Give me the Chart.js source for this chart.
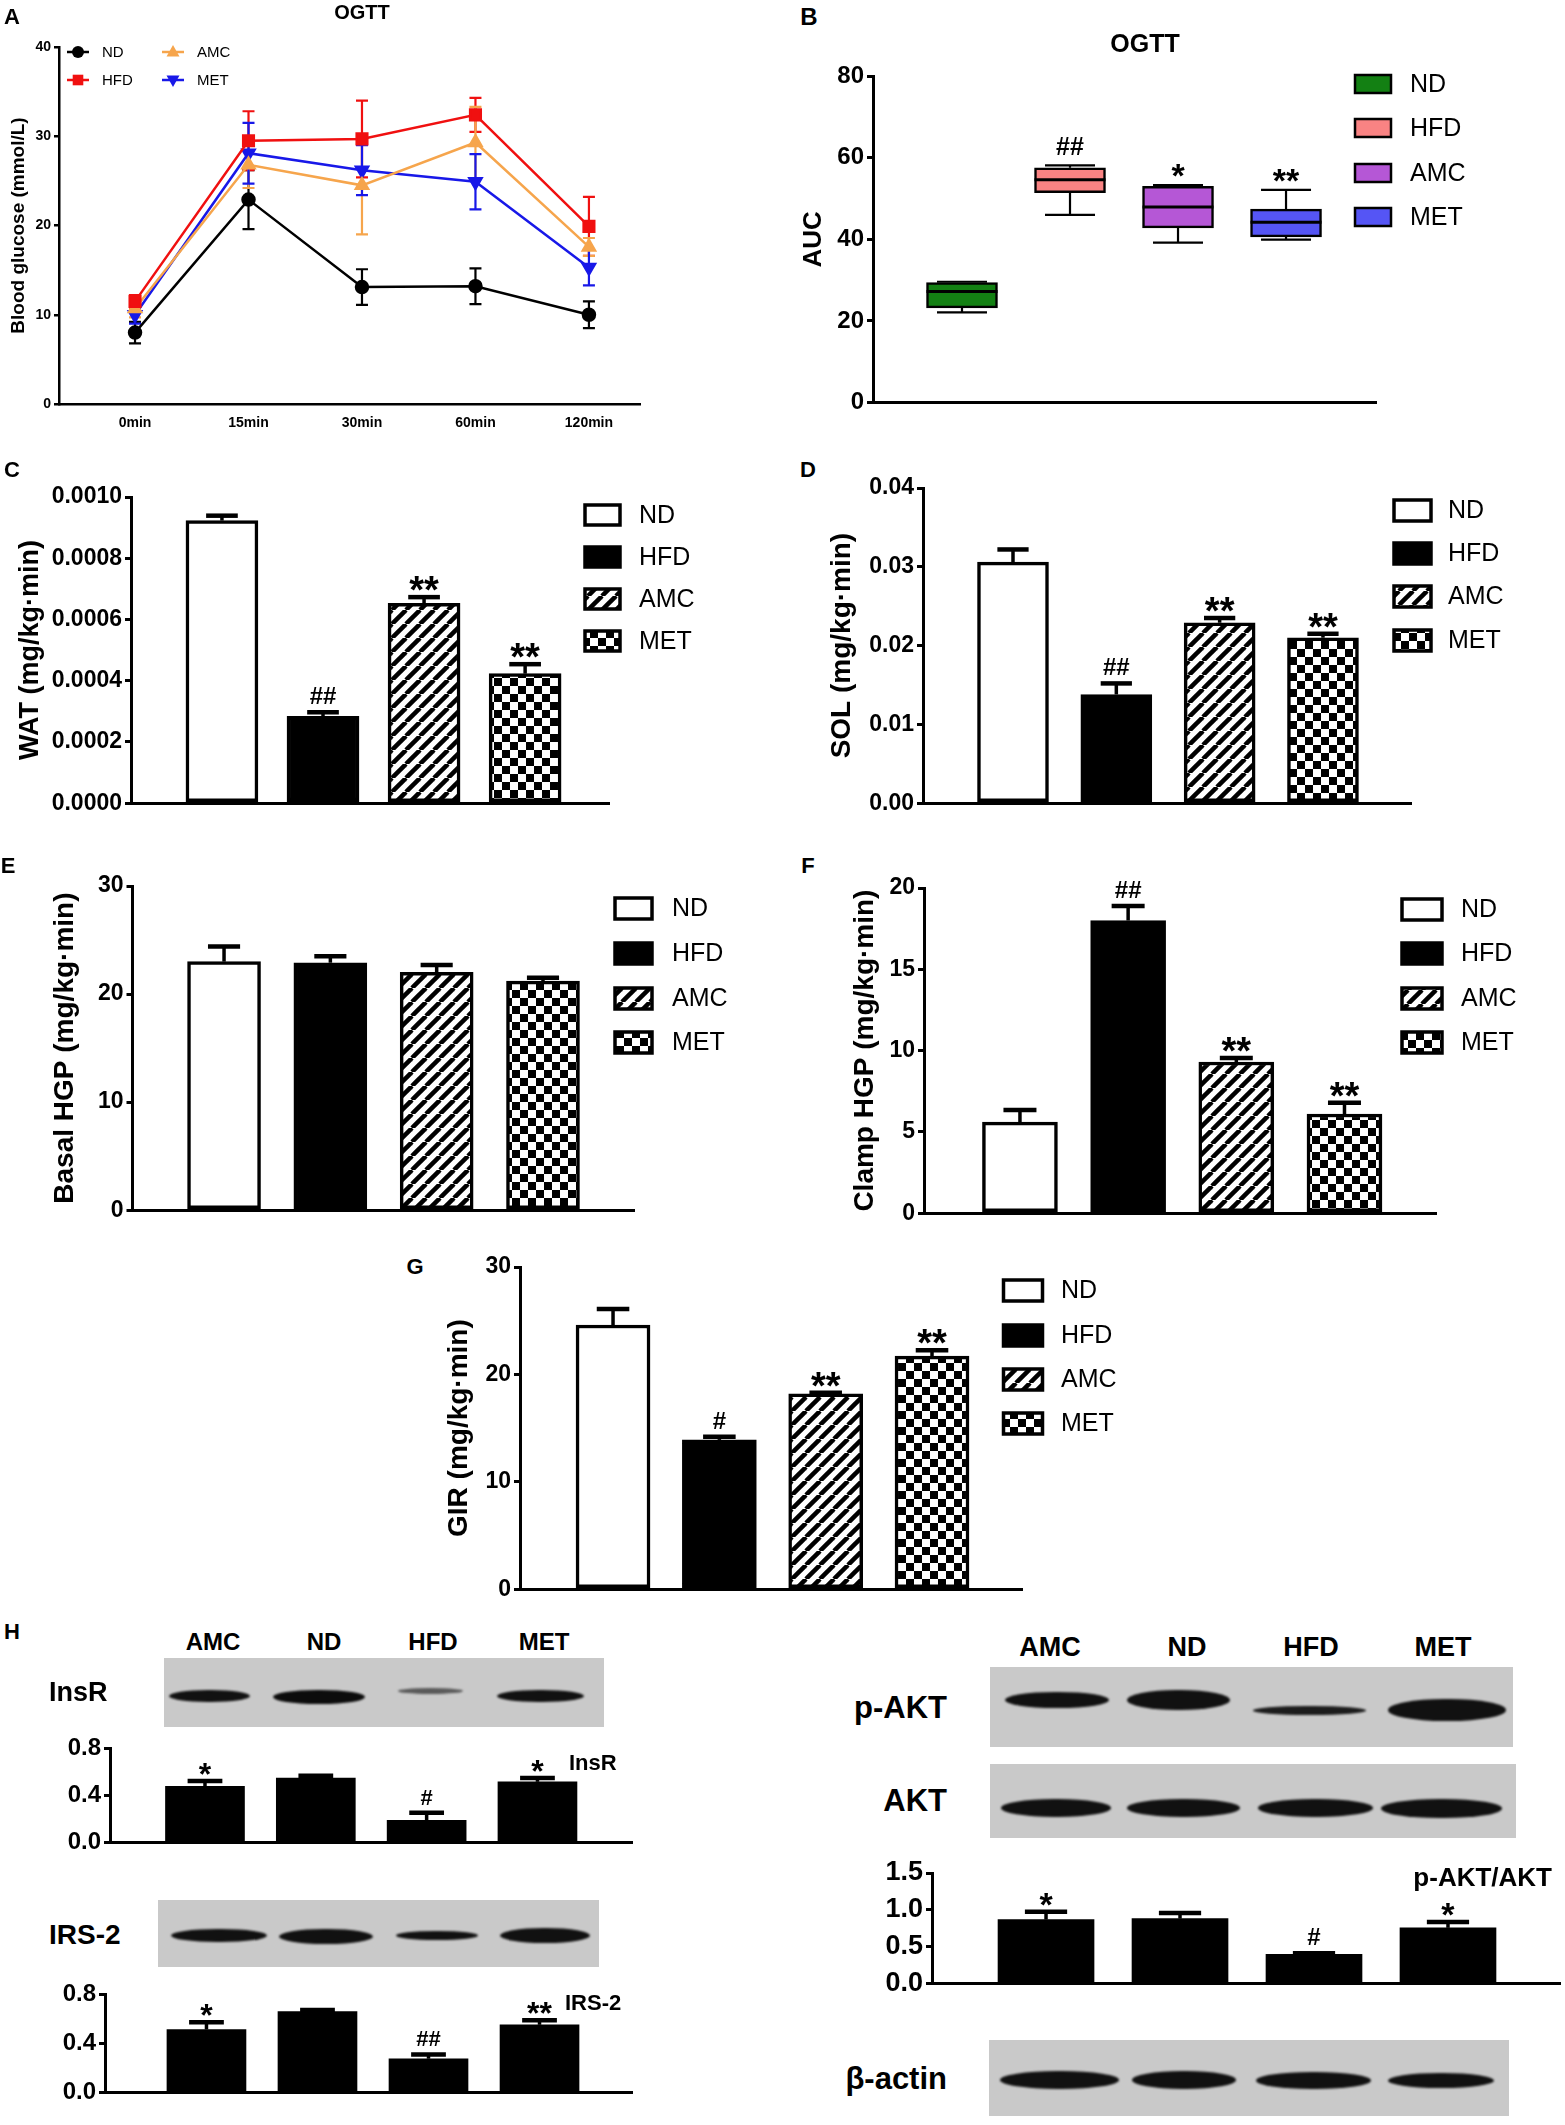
<!DOCTYPE html>
<html>
<head>
<meta charset="utf-8">
<script src="https://cdn.jsdelivr.net/npm/chart.js@4.4.1/dist/chart.umd.min.js"></script>
<style>
body { margin: 0; background: #fff; }
#page { position: relative; width: 1565px; height: 2125px; overflow: hidden; background: #fff;
        font-family: 'Liberation Sans', Arial, sans-serif; color: #000; }
#page canvas { position: absolute; }
.t { position: absolute; white-space: nowrap; line-height: 1; }
.blot { position: absolute; background: #c9c9c9; }
.band { position: absolute; border-radius: 48% / 50%; filter: blur(1.3px); }
</style>
</head>
<body>
<div id="page"></div>
<script>
// ---------- data ----------
const groups = ['ND', 'HFD', 'AMC', 'MET'];
const lanes = ['AMC', 'ND', 'HFD', 'MET'];

// A: OGTT curves
const timeLabels = ['0min', '15min', '30min', '60min', '120min'];
const ogttND  = [8.0, 22.9, 13.1, 13.2, 10.0];
const ogttHFD = [11.5, 29.5, 29.7, 32.4, 19.9];
const ogttAMC = [10.7, 26.8, 24.5, 29.3, 17.6];
const ogttMET = [10.0, 28.1, 26.2, 24.9, 15.3];
const errND  = [1.2, 3.3, 2.0, 2.0, 1.5];
const errHFD = [0.7, 3.3, 4.3, 1.9, 3.3];
const errAMC = [1.0, 2.6, 5.5, 4.0, 1.0];
const errMET = [1.0, 3.4, 2.8, 3.1, 2.0];
const ogttTicks = [0, 10, 20, 30, 40];

// B: AUC box plot
const aucMin = [22.1, 46.0, 39.2, 39.9];
const aucQ1  = [23.2, 51.4, 42.8, 40.6];
const aucMed = [27.2, 54.6, 47.9, 44.2];
const aucQ3  = [29.4, 57.5, 53.0, 47.4];
const aucMax = [29.6, 58.1, 53.3, 52.1];
const aucNotes = ['', '##', '*', '**'];
const aucTicks = [0, 20, 40, 60, 80];

// C-G: clamp bars
const wat = [0.000923, 0.000284, 0.000653, 0.000423];
const watErr = [0.000016, 0.000013, 0.00002, 0.000031];
const watNotes = ['', '##', '**', '**'];
const watTicks = [0, 0.0002, 0.0004, 0.0006, 0.0008, 0.001];

const sol = [0.0306, 0.0138, 0.0229, 0.0210];
const solErr = [0.0016, 0.0014, 0.0006, 0.0005];
const solNotes = ['', '##', '**', '**'];
const solTicks = [0, 0.01, 0.02, 0.03, 0.04];

const basal = [23.0, 22.9, 22.0, 21.2];
const basalErr = [1.4, 0.6, 0.7, 0.3];
const basalNotes = ['', '', '', ''];
const basalTicks = [0, 10, 20, 30];

const clamp = [5.6, 18.0, 9.3, 6.1];
const clampErr = [0.75, 0.9, 0.25, 0.7];
const clampNotes = ['', '##', '**', '**'];
const clampTicks = [0, 5, 10, 15, 20];

const gir = [24.6, 13.9, 18.2, 21.7];
const girErr = [1.5, 0.3, 0.1, 0.55];
const girNotes = ['', '#', '**', '**'];
const girTicks = [0, 10, 20, 30];

// H: western blot quantification (lane order AMC, ND, HFD, MET)
const insr = [0.475, 0.546, 0.189, 0.514];
const insrErr = [0.045, 0.02, 0.063, 0.032];
const insrNotes = ['*', '', '#', '*'];
const irs2 = [0.512, 0.657, 0.275, 0.55];
const irs2Err = [0.059, 0.013, 0.035, 0.037];
const irs2Notes = ['*', '', '##', '**'];
const blotTicks = [0, 0.4, 0.8];
const pakt = [0.87, 0.882, 0.40, 0.758];
const paktErr = [0.104, 0.078, 0.014, 0.079];
const paktNotes = ['*', '', '#', '*'];
const paktTicks = [0, 0.5, 1.0, 1.5];

// ---------- setup ----------
const FONT = "'Liberation Sans', Arial, sans-serif";
Chart.defaults.font.family = FONT;
Chart.defaults.color = '#000';
Chart.defaults.animation = false;
const page = document.getElementById('page');

function addCanvas(box) {
  const c = document.createElement('canvas');
  c.width = box.w; c.height = box.h;
  c.style.left = box.left + 'px'; c.style.top = box.top + 'px';
  c.style.width = box.w + 'px'; c.style.height = box.h + 'px';
  page.appendChild(c);
  return c;
}

function label(txt, x, y, size, align, weight) {
  const d = document.createElement('div');
  d.className = 't';
  d.textContent = txt;
  d.style.fontSize = size + 'px';
  d.style.fontWeight = weight || 'bold';
  d.style.left = x + 'px';
  d.style.top = y + 'px';
  const ax = align === 'l' ? '0' : align === 'r' ? '-100%' : '-50%';
  d.style.transform = 'translate(' + ax + ',-50%)';
  page.appendChild(d);
}

function blot(x0, y0, x1, y1, bands) {
  const b = document.createElement('div');
  b.className = 'blot';
  b.style.left = x0 + 'px'; b.style.top = y0 + 'px';
  b.style.width = (x1 - x0) + 'px'; b.style.height = (y1 - y0) + 'px';
  page.appendChild(b);
  bands.forEach(s => {
    const d = document.createElement('div');
    d.className = 'band';
    d.style.left = s[0] + 'px'; d.style.top = (s[2] - s[3] / 2) + 'px';
    d.style.width = (s[1] - s[0]) + 'px'; d.style.height = s[3] + 'px';
    d.style.background = s[4] || '#111';
    page.appendChild(d);
  });
}

// padding + axis sizes so the plot area lands on given page coordinates
function frame(box, area) {
  return {
    padding: { top: area.y0 - box.top, right: box.left + box.w - area.x1, bottom: 0, left: 0 },
    yWidth: area.x0 - box.left,
    xHeight: box.top + box.h - area.y1
  };
}

function stripes() {
  const p = 14, c = document.createElement('canvas');
  c.width = c.height = p;
  const g = c.getContext('2d');
  g.fillStyle = '#fff'; g.fillRect(0, 0, p, p);
  g.strokeStyle = '#000'; g.lineWidth = 4.5;
  for (const o of [-p, 0, p]) { g.beginPath(); g.moveTo(o, p); g.lineTo(o + p, 0); g.stroke(); }
  return g.createPattern(c, 'repeat');
}
function checker() {
  const c = document.createElement('canvas');
  c.width = c.height = 16;
  const g = c.getContext('2d');
  g.fillStyle = '#fff'; g.fillRect(0, 0, 16, 16);
  g.fillStyle = '#000'; g.fillRect(0, 0, 8, 8); g.fillRect(8, 8, 8, 8);
  return g.createPattern(c, 'repeat');
}
const clampFills = ['#fff', '#000', stripes(), checker()];

// significance mark whose glyph bottom sits a few px above y = tip
function drawNote(ctx, n, x, tip, star, hash) {
  const isStar = n[0] === '*';
  ctx.font = 'bold ' + (isStar ? star : hash) + 'px ' + FONT;
  ctx.textAlign = 'center';
  ctx.textBaseline = 'alphabetic';
  const m = ctx.measureText(n);
  const gap = isStar ? 4 : 6;
  ctx.fillText(n, x, tip - gap - m.actualBoundingBoxDescent);
}

function errorBars(errs, notes, star, hash) {
  return {
    id: 'errbars',
    afterDatasetsDraw(chart) {
      const ctx = chart.ctx, y = chart.scales.y, meta = chart.getDatasetMeta(0);
      const data = chart.data.datasets[0].data;
      ctx.save();
      ctx.strokeStyle = '#000'; ctx.fillStyle = '#000';
      meta.data.forEach((bar, i) => {
        const v = data[i].y;
        const top = y.getPixelForValue(v), tip = y.getPixelForValue(v + errs[i]);
        const half = bar.width * 0.22;
        ctx.lineWidth = 3.5;
        ctx.beginPath(); ctx.moveTo(bar.x, top); ctx.lineTo(bar.x, tip); ctx.stroke();
        ctx.lineWidth = 4.5;
        ctx.beginPath(); ctx.moveTo(bar.x - half, tip); ctx.lineTo(bar.x + half, tip); ctx.stroke();
        if (notes[i]) drawNote(ctx, notes[i], bar.x, tip - 2, star, hash);
      });
      ctx.restore();
    }
  };
}

function boxLegend(box, lg) {
  return {
    id: 'boxlegend',
    afterDraw(chart) {
      const ctx = chart.ctx;
      ctx.save();
      groups.forEach((g, i) => {
        const x = lg.x - box.left, y = lg.tops[i] - box.top;
        ctx.fillStyle = lg.fills[i];
        ctx.fillRect(x, y, lg.w, lg.h);
        ctx.strokeStyle = '#000'; ctx.lineWidth = lg.lw || 3.5;
        ctx.strokeRect(x, y, lg.w, lg.h);
        ctx.fillStyle = '#000';
        ctx.font = lg.size + 'px ' + FONT;
        ctx.textAlign = 'left'; ctx.textBaseline = 'middle';
        ctx.fillText(g, lg.textX - box.left, y + lg.h / 2 + 1);
      });
      ctx.restore();
    }
  };
}

function yAxis(f, ticks, fmt, size, title, titleSize, extra) {
  return Object.assign({
    min: ticks[0], max: ticks[ticks.length - 1],
    afterBuildTicks: s => { s.ticks = ticks.map(v => ({ value: v })); },
    ticks: { callback: v => fmt(v), font: { size: size, weight: 'bold' }, padding: 3, color: '#000' },
    grid: { drawOnChartArea: false, tickLength: 6, lineWidth: 3, color: '#000' },
    border: { color: '#000', width: 3 },
    title: title ? { display: true, text: title, color: '#000', font: { size: titleSize, weight: 'bold' }, padding: { top: 0, bottom: 0 } } : { display: false },
    afterFit: s => { s.width = f.yWidth; }
  }, extra || {});
}

function barPanel(cfg) {
  const f = frame(cfg.box, cfg.area);
  const plugins = [errorBars(cfg.errs, cfg.notes, cfg.star || 38, cfg.hash || 24)];
  if (cfg.legend) plugins.push(boxLegend(cfg.box, cfg.legend));
  return new Chart(addCanvas(cfg.box), {
    type: 'bar',
    data: {
      datasets: [{
        data: cfg.values.map((v, i) => ({ x: i, y: v })),
        backgroundColor: cfg.fills,
        borderColor: '#000',
        borderWidth: cfg.border,
        borderSkipped: false,
        barThickness: cfg.barW
      }]
    },
    options: {
      responsive: false, animation: false,
      layout: { padding: f.padding },
      plugins: { legend: { display: false }, tooltip: { enabled: false } },
      scales: {
        x: {
          type: 'linear', min: cfg.xmin, max: cfg.xmax, offset: false,
          ticks: { display: false }, grid: { display: false },
          border: { color: '#000', width: 3 },
          afterFit: s => { s.height = f.xHeight; }
        },
        y: yAxis(f, cfg.ticks, cfg.fmt, cfg.tickSize || 23, cfg.title, cfg.titleSize || 28)
      }
    },
    plugins: plugins
  });
}

// ---------- A: OGTT lines ----------
(function () {
  const box = { left: 0, top: 25, w: 660, h: 420 };
  const area = { x0: 59, x1: 640, y0: 47, y1: 404 };
  const f = frame(box, area);
  const series = [
    { g: 'ND', v: ogttND, e: errND, c: '#000000', s: 'circle', r: 6, rot: 0 },
    { g: 'HFD', v: ogttHFD, e: errHFD, c: '#f01010', s: 'rect', r: 7.5, rot: 0 },
    { g: 'AMC', v: ogttAMC, e: errAMC, c: '#f6a54c', s: 'triangle', r: 7, rot: 0 },
    { g: 'MET', v: ogttMET, e: errMET, c: '#1818e8', s: 'triangle', r: 7, rot: 180 }
  ];
  const legPos = { ND: [78, 52], AMC: [173, 52], HFD: [78, 80], MET: [173, 80] };

  function marker(ctx, s, x, y) {
    ctx.beginPath();
    if (s.s === 'circle') ctx.arc(x, y, 6, 0, Math.PI * 2);
    else if (s.s === 'rect') ctx.rect(x - 5.3, y - 5.3, 10.6, 10.6);
    else {
      const k = s.rot ? -1 : 1;
      ctx.moveTo(x, y - k * 7); ctx.lineTo(x + 6.5, y + k * 4.5); ctx.lineTo(x - 6.5, y + k * 4.5); ctx.closePath();
    }
    ctx.fill();
  }

  new Chart(addCanvas(box), {
    type: 'line',
    data: {
      datasets: series.map(s => ({
        label: s.g,
        data: s.v.map((v, i) => ({ x: i, y: v })),
        borderColor: s.c, backgroundColor: s.c,
        pointBackgroundColor: s.c, pointBorderColor: s.c,
        pointStyle: s.s, pointRadius: s.r, pointRotation: s.rot,
        borderWidth: 2.5, tension: 0
      }))
    },
    options: {
      responsive: false, animation: false,
      layout: { padding: f.padding },
      plugins: { legend: { display: false }, tooltip: { enabled: false } },
      scales: {
        x: {
          type: 'linear', min: -0.67, max: 4.45, offset: false,
          afterBuildTicks: s => { s.ticks = timeLabels.map((_, i) => ({ value: i })); },
          ticks: { callback: v => timeLabels[v], font: { size: 14, weight: 'bold' }, padding: 3, maxRotation: 0 },
          grid: { display: false, drawTicks: true, tickLength: 8 },
          border: { color: '#000', width: 2.5 },
          afterFit: s => { s.height = f.xHeight; }
        },
        y: yAxis(f, ogttTicks, v => v, 14, 'Blood glucose (mmol/L)', 19, {
          grid: { drawOnChartArea: false, tickLength: 5, lineWidth: 2.5, color: '#000' },
          border: { color: '#000', width: 2.5 },
          title: { display: true, text: 'Blood glucose (mmol/L)', color: '#000', font: { size: 19, weight: 'bold' }, padding: { top: 7, bottom: 0 } }
        })
      }
    },
    plugins: [{
      id: 'ogttExtras',
      beforeDatasetsDraw(chart) {
        const ctx = chart.ctx, y = chart.scales.y;
        ctx.save();
        series.forEach((s, di) => {
          const meta = chart.getDatasetMeta(di);
          ctx.strokeStyle = s.c; ctx.lineWidth = 2.2;
          meta.data.forEach((pt, i) => {
            const hi = y.getPixelForValue(s.v[i] + s.e[i]), lo = y.getPixelForValue(s.v[i] - s.e[i]);
            ctx.beginPath();
            ctx.moveTo(pt.x, hi); ctx.lineTo(pt.x, lo);
            ctx.moveTo(pt.x - 6, hi); ctx.lineTo(pt.x + 6, hi);
            ctx.moveTo(pt.x - 6, lo); ctx.lineTo(pt.x + 6, lo);
            ctx.stroke();
          });
        });
        ctx.restore();
      },
      afterDraw(chart) {
        const ctx = chart.ctx;
        ctx.save();
        series.forEach(s => {
          const x = legPos[s.g][0] - box.left, y = legPos[s.g][1] - box.top;
          ctx.strokeStyle = s.c; ctx.fillStyle = s.c; ctx.lineWidth = 2.5;
          ctx.beginPath(); ctx.moveTo(x - 11, y); ctx.lineTo(x + 11, y); ctx.stroke();
          marker(ctx, s, x, y);
          ctx.fillStyle = '#000';
          ctx.font = '15px ' + FONT;
          ctx.textAlign = 'left'; ctx.textBaseline = 'middle';
          ctx.fillText(s.g, x + 24, y + 1);
        });
        ctx.restore();
      }
    }]
  });
})();

// ---------- B: AUC box plot ----------
(function () {
  const box = { left: 798, top: 40, w: 760, h: 380 };
  const area = { x0: 873, x1: 1376, y0: 76, y1: 406 };
  const f = frame(box, area);
  const boxFills = ['#138013', '#f98383', '#b557d6', '#5555f5'];
  new Chart(addCanvas(box), {
    type: 'bar',
    data: {
      datasets: [{
        data: aucQ1.map((q, i) => ({ x: i, y: [q, aucQ3[i]] })),
        backgroundColor: boxFills, borderColor: '#000', borderWidth: 2.5,
        borderSkipped: false, barThickness: 71
      }]
    },
    options: {
      responsive: false, animation: false,
      layout: { padding: f.padding },
      plugins: { legend: { display: false }, tooltip: { enabled: false } },
      scales: {
        x: {
          type: 'linear', min: -0.824, max: 3.833, offset: false,
          ticks: { display: false }, grid: { display: false },
          border: { color: '#000', width: 3 },
          afterFit: s => { s.height = f.xHeight; }
        },
        y: yAxis(f, aucTicks, v => v, 24, 'AUC', 26)
      }
    },
    plugins: [{
      id: 'whiskers',
      afterDatasetsDraw(chart) {
        const ctx = chart.ctx, y = chart.scales.y, meta = chart.getDatasetMeta(0);
        ctx.save();
        ctx.strokeStyle = '#000'; ctx.fillStyle = '#000';
        meta.data.forEach((bar, i) => {
          const x = bar.x, hw = bar.width / 2, cw = 25;
          const pMed = y.getPixelForValue(aucMed[i]), pMin = y.getPixelForValue(aucMin[i]), pMax = y.getPixelForValue(aucMax[i]);
          const pQ1 = y.getPixelForValue(aucQ1[i]), pQ3 = y.getPixelForValue(aucQ3[i]);
          ctx.lineWidth = 3;
          ctx.beginPath(); ctx.moveTo(x - hw, pMed); ctx.lineTo(x + hw, pMed); ctx.stroke();
          ctx.lineWidth = 2.2;
          ctx.beginPath();
          ctx.moveTo(x, pQ3); ctx.lineTo(x, pMax); ctx.moveTo(x - cw, pMax); ctx.lineTo(x + cw, pMax);
          ctx.moveTo(x, pQ1); ctx.lineTo(x, pMin); ctx.moveTo(x - cw, pMin); ctx.lineTo(x + cw, pMin);
          ctx.stroke();
          if (aucNotes[i]) drawNote(ctx, aucNotes[i], x, pMax - 4, 34, 25);
        });
        ctx.restore();
      }
    }, boxLegend(box, { x: 1355, tops: [75, 119, 164, 208], w: 36, h: 18, textX: 1410, size: 25, fills: boxFills, lw: 2.5 })]
  });
})();

// ---------- C-G ----------
barPanel({
  box: { left: 14, top: 470, w: 700, h: 350 }, area: { x0: 131, x1: 609, y0: 497, y1: 810 },
  xmin: -0.90, xmax: 3.83, barW: 72, border: 3.5, fills: clampFills,
  values: wat, errs: watErr, notes: watNotes, ticks: watTicks, fmt: v => v.toFixed(4),
  title: 'WAT (mg/kg·min)', titleSize: 27,
  legend: { x: 585, tops: [505, 547, 589, 631], w: 35, h: 20, textX: 639, size: 25, fills: clampFills }
});
barPanel({
  box: { left: 825, top: 465, w: 735, h: 355 }, area: { x0: 923, x1: 1411, y0: 488, y1: 809 },
  xmin: -0.871, xmax: 3.852, barW: 71, border: 3.5, fills: clampFills,
  values: sol, errs: solErr, notes: solNotes, ticks: solTicks, fmt: v => v.toFixed(2),
  title: 'SOL (mg/kg·min)',
  legend: { x: 1394, tops: [500, 543, 586, 630], w: 37, h: 21, textX: 1448, size: 25, fills: clampFills }
});
barPanel({
  box: { left: 48, top: 862, w: 690, h: 365 }, area: { x0: 132.5, x1: 634, y0: 886, y1: 1216 },
  xmin: -0.861, xmax: 3.856, barW: 73, border: 3.5, fills: clampFills,
  values: basal, errs: basalErr, notes: basalNotes, ticks: basalTicks, fmt: v => v,
  title: 'Basal HGP (mg/kg·min)',
  legend: { x: 615, tops: [898, 943, 988, 1032], w: 37, h: 21, textX: 672, size: 25, fills: clampFills }
});
barPanel({
  box: { left: 848, top: 864, w: 712, h: 366 }, area: { x0: 924, x1: 1436, y0: 888, y1: 1220 },
  xmin: -0.887, xmax: 3.846, barW: 75, border: 3.5, fills: clampFills,
  values: clamp, errs: clampErr, notes: clampNotes, ticks: clampTicks, fmt: v => v,
  title: 'Clamp HGP (mg/kg·min)',
  legend: { x: 1402, tops: [899, 943, 988, 1032], w: 40, h: 21, textX: 1461, size: 25, fills: clampFills }
});
barPanel({
  box: { left: 442, top: 1243, w: 680, h: 363 }, area: { x0: 520, x1: 1022.5, y0: 1267, y1: 1596 },
  xmin: -0.875, xmax: 3.851, barW: 74, border: 3.5, fills: clampFills,
  values: gir, errs: girErr, notes: girNotes, ticks: girTicks, fmt: v => v,
  title: 'GIR (mg/kg·min)',
  legend: { x: 1003.5, tops: [1280, 1325, 1369, 1413], w: 39, h: 21, textX: 1061, size: 25, fills: clampFills }
});

// ---------- H: blot quantification ----------
const black4 = ['#000', '#000', '#000', '#000'];
barPanel({
  box: { left: 30, top: 1725, w: 620, h: 135 }, area: { x0: 110, x1: 632, y0: 1748, y1: 1849 },
  xmin: -0.857, xmax: 3.853, barW: 79, border: 0, fills: black4,
  values: insr, errs: insrErr, notes: insrNotes, ticks: blotTicks, fmt: v => v.toFixed(1),
  tickSize: 24, star: 32, hash: 22
});
barPanel({
  box: { left: 30, top: 1970, w: 620, h: 140 }, area: { x0: 105, x1: 632, y0: 1994, y1: 2097 },
  xmin: -0.914, xmax: 3.833, barW: 79, border: 0, fills: black4,
  values: irs2, errs: irs2Err, notes: irs2Notes, ticks: blotTicks, fmt: v => v.toFixed(1),
  tickSize: 24, star: 32, hash: 22
});
barPanel({
  box: { left: 850, top: 1848, w: 715, h: 155 }, area: { x0: 932, x1: 1560, y0: 1873, y1: 1993 },
  xmin: -0.851, xmax: 3.836, barW: 96, border: 0, fills: black4,
  values: pakt, errs: paktErr, notes: paktNotes, ticks: paktTicks, fmt: v => v.toFixed(1),
  tickSize: 27, star: 34, hash: 24
});

// ---------- blots ----------
blot(164, 1658, 604, 1727, [[169, 250, 1696, 12], [273, 365, 1697, 14, '#0c0c0c'], [398, 463, 1691, 6, '#5a5a5a'], [497, 584, 1696, 12]]);
blot(158, 1900, 599, 1967, [[171, 267, 1935, 13], [279, 373, 1936, 15], [396, 478, 1935, 9], [500, 590, 1935, 15]]);
blot(990, 1667, 1513, 1747, [[1005, 1109, 1700, 16], [1127, 1230, 1700, 20], [1253, 1366, 1710, 9, '#1c1c1c'], [1388, 1506, 1710, 22]]);
blot(990, 1764, 1516, 1838, [[1001, 1111, 1808, 18], [1127, 1240, 1808, 18], [1258, 1373, 1808, 18], [1381, 1502, 1808, 19]]);
blot(989, 2040, 1509, 2116, [[1000, 1119, 2080, 18], [1132, 1236, 2080, 18], [1256, 1371, 2080, 17], [1388, 1494, 2080, 15]]);

// ---------- text ----------
label('A', 12, 17, 22);
label('OGTT', 362, 12, 20);
label('B', 809, 17, 24);
label('OGTT', 1145, 43, 25);
label('C', 12, 470, 22);
label('D', 808, 470, 22);
label('E', 8, 866, 22);
label('F', 808, 866, 22);
label('G', 415, 1267, 22);
label('H', 12, 1632, 22);

[213, 324, 433, 544].forEach((x, i) => label(lanes[i], x, 1642, 24));
[1050, 1187, 1311, 1443].forEach((x, i) => label(lanes[i], x, 1647, 27));
label('InsR', 49, 1692, 27, 'l');
label('IRS-2', 49, 1935, 28, 'l');
label('InsR', 569, 1763, 22, 'l');
label('IRS-2', 565, 2003, 22, 'l');
label('p-AKT', 947, 1707, 31, 'r');
label('AKT', 947, 1800, 31, 'r');
label('β-actin', 947, 2078, 31, 'r');
label('p-AKT/AKT', 1552, 1877, 26, 'r');
</script>
</body>
</html>
